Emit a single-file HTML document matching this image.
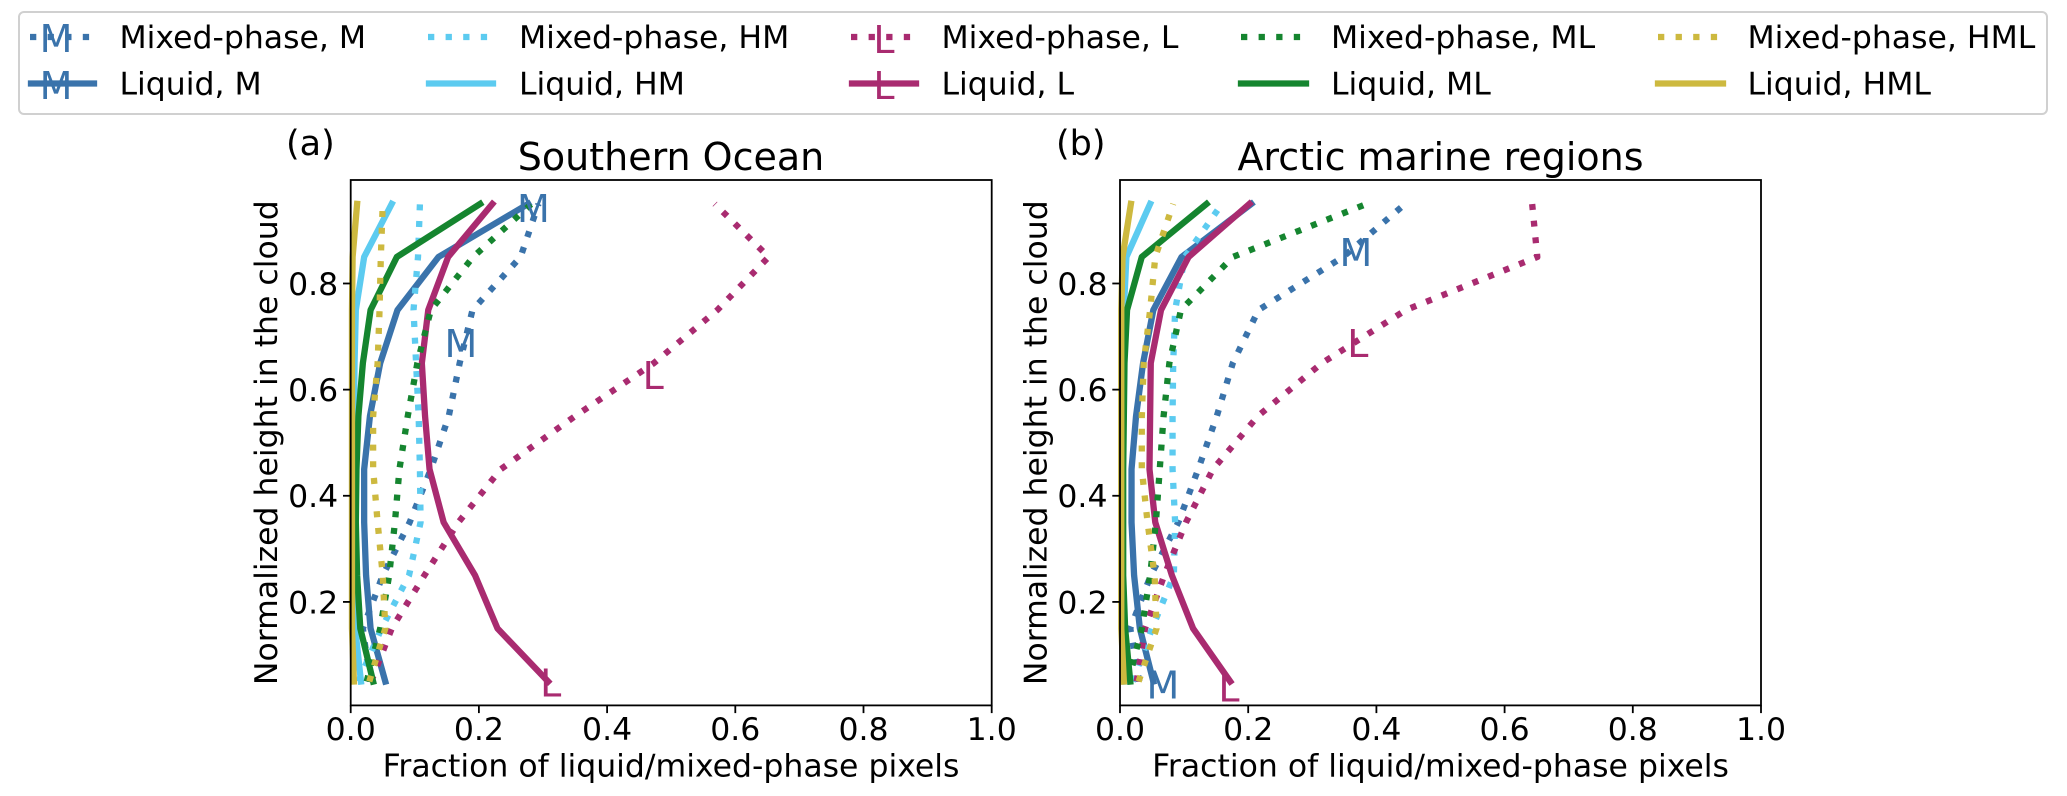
<!DOCTYPE html>
<html lang="en">
<head>
<meta charset="utf-8">
<title>Fraction of liquid and mixed-phase pixels</title>
<style>
html,body{margin:0;padding:0;background:#fff;width:2067px;height:796px;overflow:hidden}
svg{display:block}
text{font-family:"DejaVu Sans","Liberation Sans",sans-serif;fill:#000}
.lab{font-size:31.5px}
.ttl{font-size:38px}
.mk{font-size:38px}
</style>
</head>
<body>
<svg id="chart" width="2067" height="796" viewBox="0 0 2067 796" xmlns="http://www.w3.org/2000/svg">
  <rect x="0" y="0" width="2067" height="796" fill="#fff"/>
  <g>
    <rect x="19" y="12" width="2028" height="102" rx="5" ry="5" fill="#fff" stroke="#d0d0d0" stroke-width="2"/>
    <g>
      <line x1="30" x2="96" y1="37" y2="37" stroke="#3A73AB" stroke-width="6.3" stroke-dasharray="6.3 11.3"/>
      <text class="mk" x="56" y="52" text-anchor="middle" style="fill:#3A73AB">M</text>
      <text class="lab" x="119.5" y="48">Mixed-phase, M</text>
    </g>
    <g>
      <line x1="31" x2="94" y1="83.5" y2="83.5" stroke="#3A73AB" stroke-width="6.3" stroke-linecap="square"/>
      <text class="mk" x="56" y="99" text-anchor="middle" style="fill:#3A73AB">M</text>
      <text class="lab" x="119.5" y="94.5">Liquid, M</text>
    </g>
    <g>
      <line x1="428" x2="494" y1="37" y2="37" stroke="#5CCBF0" stroke-width="6.3" stroke-dasharray="6.3 11.3"/>
      <text class="lab" x="519" y="48">Mixed-phase, HM</text>
    </g>
    <g>
      <line x1="429" x2="493" y1="83.5" y2="83.5" stroke="#5CCBF0" stroke-width="6.3" stroke-linecap="square"/>
      <text class="lab" x="519" y="94.5">Liquid, HM</text>
    </g>
    <g>
      <line x1="851" x2="917" y1="37" y2="37" stroke="#A92B70" stroke-width="6.3" stroke-dasharray="6.3 11.3"/>
      <text class="mk" x="884" y="53" text-anchor="middle" style="fill:#A92B70">L</text>
      <text class="lab" x="941.5" y="48">Mixed-phase, L</text>
    </g>
    <g>
      <line x1="852" x2="916" y1="83.5" y2="83.5" stroke="#A92B70" stroke-width="6.3" stroke-linecap="square"/>
      <text class="mk" x="884" y="99" text-anchor="middle" style="fill:#A92B70">L</text>
      <text class="lab" x="941.5" y="94.5">Liquid, L</text>
    </g>
    <g>
      <line x1="1241" x2="1307" y1="37" y2="37" stroke="#15852F" stroke-width="6.3" stroke-dasharray="6.3 11.3"/>
      <text class="lab" x="1331" y="48">Mixed-phase, ML</text>
    </g>
    <g>
      <line x1="1241" x2="1306" y1="83.5" y2="83.5" stroke="#15852F" stroke-width="6.3" stroke-linecap="square"/>
      <text class="lab" x="1331" y="94.5">Liquid, ML</text>
    </g>
    <g>
      <line x1="1658" x2="1724" y1="37" y2="37" stroke="#CDB93F" stroke-width="6.3" stroke-dasharray="6.3 11.3"/>
      <text class="lab" x="1747.5" y="48">Mixed-phase, HML</text>
    </g>
    <g>
      <line x1="1658" x2="1723" y1="83.5" y2="83.5" stroke="#CDB93F" stroke-width="6.3" stroke-linecap="square"/>
      <text class="lab" x="1747.5" y="94.5">Liquid, HML</text>
    </g>
  </g>

  <text class="lab" style="font-size:35px" x="286" y="155">(a)</text>
  <text class="ttl" x="671" y="170" text-anchor="middle">Southern Ocean</text>
  <text class="lab" x="671" y="776.5" text-anchor="middle">Fraction of liquid/mixed-phase pixels</text>
  <text class="lab" transform="translate(277 442.7) rotate(-90)" text-anchor="middle">Normalized height in the cloud</text>

  <text class="lab" style="font-size:35px" x="1056" y="155">(b)</text>
  <text class="ttl" x="1440.5" y="170" text-anchor="middle">Arctic marine regions</text>
  <text class="lab" x="1440.5" y="776.5" text-anchor="middle">Fraction of liquid/mixed-phase pixels</text>
  <text class="lab" transform="translate(1046.5 442.7) rotate(-90)" text-anchor="middle">Normalized height in the cloud</text>

  <g id="panel-a"></g>
  <g id="panel-b"></g>
</svg>

<script>
// Shared axis data
const heightLevels = [0.05, 0.15, 0.25, 0.35, 0.45, 0.55, 0.65, 0.75, 0.85, 0.95];
const xTickValues = [0, 0.2, 0.4, 0.6, 0.8, 1.0];
const xTickLabels = ['0.0', '0.2', '0.4', '0.6', '0.8', '1.0'];
const yTickValues = [0.2, 0.4, 0.6, 0.8];
const yTickLabels = ['0.2', '0.4', '0.6', '0.8'];

// Panel (a) Southern Ocean
const soMixedM   = [0.030, 0.019, 0.050, 0.092, 0.125, 0.153, 0.170, 0.190, 0.265, 0.293];
const soLiquidM  = [0.054, 0.031, 0.024, 0.021, 0.021, 0.030, 0.046, 0.073, 0.137, 0.277];
const soMixedHM  = [0.012, 0.048, 0.091, 0.109, 0.108, 0.106, 0.102, 0.098, 0.105, 0.108];
const soLiquidHM = [0.016, 0.007, 0.004, 0.004, 0.004, 0.005, 0.006, 0.008, 0.021, 0.064];
const soMixedL   = [0.032, 0.064, 0.115, 0.168, 0.234, 0.350, 0.473, 0.572, 0.652, 0.568];
const soLiquidL  = [0.308, 0.229, 0.194, 0.145, 0.123, 0.116, 0.111, 0.121, 0.152, 0.221];
const soMixedML  = [0.025, 0.046, 0.060, 0.069, 0.076, 0.089, 0.104, 0.125, 0.191, 0.282];
const soLiquidML = [0.035, 0.015, 0.010, 0.008, 0.009, 0.012, 0.019, 0.031, 0.072, 0.202];
const soMixedHML = [0.029, 0.054, 0.050, 0.042, 0.035, 0.035, 0.042, 0.045, 0.047, 0.050];
const soLiquidHML= [0.005, 0.002, 0.002, 0.002, 0.002, 0.002, 0.002, 0.002, 0.003, 0.010];

// Panel (b) Arctic marine regions
const arMixedM   = [0.030, 0.016, 0.048, 0.091, 0.122, 0.151, 0.176, 0.216, 0.348, 0.445];
const arLiquidM  = [0.052, 0.031, 0.022, 0.018, 0.018, 0.025, 0.036, 0.052, 0.096, 0.205];
const arMixedHM  = [0.020, 0.050, 0.084, 0.086, 0.082, 0.082, 0.083, 0.086, 0.101, 0.159];
const arLiquidHM = [0.008, 0.003, 0.004, 0.004, 0.004, 0.004, 0.004, 0.006, 0.010, 0.047];
const arMixedL   = [0.026, 0.039, 0.069, 0.103, 0.145, 0.215, 0.315, 0.446, 0.651, 0.643];
const arLiquidL  = [0.172, 0.114, 0.081, 0.055, 0.046, 0.047, 0.048, 0.064, 0.107, 0.202];
const arMixedML  = [0.013, 0.034, 0.047, 0.056, 0.062, 0.068, 0.077, 0.095, 0.176, 0.385];
const arLiquidML = [0.016, 0.008, 0.005, 0.005, 0.005, 0.006, 0.007, 0.011, 0.034, 0.135];
const arMixedHML = [0.029, 0.057, 0.054, 0.043, 0.034, 0.034, 0.037, 0.047, 0.055, 0.083];
const arLiquidHML= [0.006, 0.002, 0.002, 0.002, 0.002, 0.002, 0.002, 0.002, 0.004, 0.017];

// Letter markers placed on the curves, in data units
const soMarkerLabels = ['M', 'M', 'L', 'L'];
const soMarkerFraction = [0.172, 0.285, 0.472, 0.312];
const soMarkerHeight = [0.687, 0.941, 0.627, 0.047];
const arMarkerLabels = ['M', 'M', 'L', 'L'];
const arMarkerFraction = [0.368, 0.067, 0.371, 0.170];
const arMarkerHeight = [0.858, 0.043, 0.687, 0.038];
const soMarkerSeries = ['M', 'M', 'L', 'L'];
const arMarkerSeries = ['M', 'M', 'L', 'L'];

const seriesColors = { M: '#3A73AB', HM: '#5CCBF0', L: '#A92B70', ML: '#15852F', HML: '#CDB93F' };
const SVGNS = 'http://www.w3.org/2000/svg';

function svgEl(tag, parent) {
  const el = document.createElementNS(SVGNS, tag);
  parent.appendChild(el);
  return el;
}

function drawPanel(rootId, left, prefix, seriesList, markerLabels, markerFraction, markerHeight, markerSeries) {
  const root = document.getElementById(rootId);
  const width = 641, top = 180, bottom = 705.4;
  const yMin = 0.005, yMax = 0.995;
  const xScale = function (v) { return left + v * width; };
  const yScale = function (v) { return bottom - (v - yMin) / (yMax - yMin) * (bottom - top); };

  seriesList.forEach(function (s) {
    const line = svgEl('polyline', root);
    
    
    line.setAttribute('fill', 'none');
    line.setAttribute('stroke', seriesColors[s.group]);
    line.setAttribute('stroke-width', '6.3');
    line.setAttribute('stroke-linejoin', 'round');
    if (s.dotted) {
      line.setAttribute('stroke-dasharray', '6 10.7');
    } else {
      line.setAttribute('stroke-linecap', 'square');
    }
    line.setAttribute('points', s.values.map(function (v, i) {
      return xScale(v).toFixed(2) + ',' + yScale(heightLevels[i]).toFixed(2);
    }).join(' '));
  });

  markerLabels.forEach(function (label, i) {
    const t = svgEl('text', root);
    
    
    t.setAttribute('class', 'mk');
    t.setAttribute('text-anchor', 'middle');
    t.setAttribute('x', xScale(markerFraction[i]).toFixed(2));
    t.setAttribute('y', (yScale(markerHeight[i]) + 13.5).toFixed(2));
    t.style.fill = seriesColors[markerSeries[i]];
    t.textContent = label;
  });

  const frame = svgEl('rect', root);
  
  
  frame.setAttribute('x', left);
  frame.setAttribute('y', top);
  frame.setAttribute('width', width);
  frame.setAttribute('height', bottom - top);
  frame.setAttribute('fill', 'none');
  frame.setAttribute('stroke', '#000');
  frame.setAttribute('stroke-width', '1.8');

  xTickValues.forEach(function (v, i) {
    const tick = svgEl('line', root);
    
    
    tick.setAttribute('x1', xScale(v));
    tick.setAttribute('x2', xScale(v));
    tick.setAttribute('y1', bottom);
    tick.setAttribute('y2', bottom + 7.7);
    tick.setAttribute('stroke', '#000');
    tick.setAttribute('stroke-width', '1.8');
    const lab = svgEl('text', root);
    
    
    lab.setAttribute('class', 'lab');
    lab.setAttribute('text-anchor', 'middle');
    lab.setAttribute('x', xScale(v));
    lab.setAttribute('y', 740);
    lab.textContent = xTickLabels[i];
  });

  yTickValues.forEach(function (v, i) {
    const tick = svgEl('line', root);
    
    
    tick.setAttribute('x1', left - 7.7);
    tick.setAttribute('x2', left);
    tick.setAttribute('y1', yScale(v));
    tick.setAttribute('y2', yScale(v));
    tick.setAttribute('stroke', '#000');
    tick.setAttribute('stroke-width', '1.8');
    const lab = svgEl('text', root);
    
    
    lab.setAttribute('class', 'lab');
    lab.setAttribute('text-anchor', 'end');
    lab.setAttribute('x', left - 12.5);
    lab.setAttribute('y', yScale(v) + 11.4);
    lab.textContent = yTickLabels[i];
  });
}

drawPanel('panel-a', 350.7, 'panel-a', [
  { key: 'mixed-m', group: 'M', dotted: true, values: soMixedM },
  { key: 'liquid-m', group: 'M', dotted: false, values: soLiquidM },
  { key: 'mixed-hm', group: 'HM', dotted: true, values: soMixedHM },
  { key: 'liquid-hm', group: 'HM', dotted: false, values: soLiquidHM },
  { key: 'mixed-l', group: 'L', dotted: true, values: soMixedL },
  { key: 'liquid-l', group: 'L', dotted: false, values: soLiquidL },
  { key: 'mixed-ml', group: 'ML', dotted: true, values: soMixedML },
  { key: 'liquid-ml', group: 'ML', dotted: false, values: soLiquidML },
  { key: 'mixed-hml', group: 'HML', dotted: true, values: soMixedHML },
  { key: 'liquid-hml', group: 'HML', dotted: false, values: soLiquidHML }
], soMarkerLabels, soMarkerFraction, soMarkerHeight, soMarkerSeries);

drawPanel('panel-b', 1120, 'panel-b', [
  { key: 'mixed-m', group: 'M', dotted: true, values: arMixedM },
  { key: 'liquid-m', group: 'M', dotted: false, values: arLiquidM },
  { key: 'mixed-hm', group: 'HM', dotted: true, values: arMixedHM },
  { key: 'liquid-hm', group: 'HM', dotted: false, values: arLiquidHM },
  { key: 'mixed-l', group: 'L', dotted: true, values: arMixedL },
  { key: 'liquid-l', group: 'L', dotted: false, values: arLiquidL },
  { key: 'mixed-ml', group: 'ML', dotted: true, values: arMixedML },
  { key: 'liquid-ml', group: 'ML', dotted: false, values: arLiquidML },
  { key: 'mixed-hml', group: 'HML', dotted: true, values: arMixedHML },
  { key: 'liquid-hml', group: 'HML', dotted: false, values: arLiquidHML }
], arMarkerLabels, arMarkerFraction, arMarkerHeight, arMarkerSeries);
</script>
</body>
</html>
